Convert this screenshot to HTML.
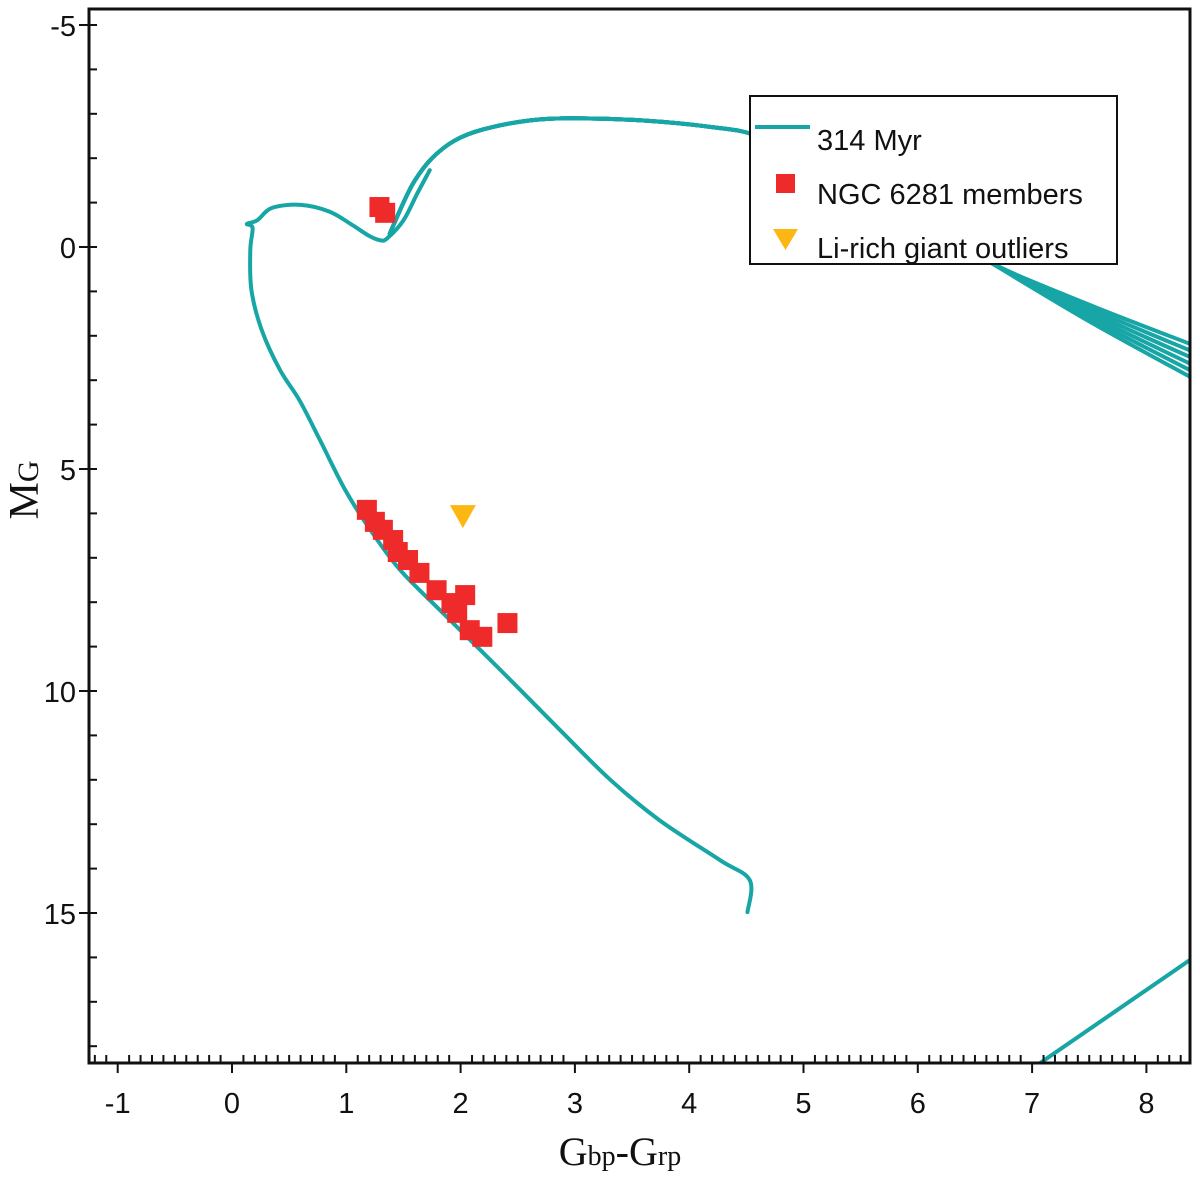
<!DOCTYPE html>
<html><head><meta charset="utf-8"><style>
body{margin:0;background:#fff;}
svg{display:block;font-family:"Liberation Sans",sans-serif;}
</style></head><body>
<svg id="chart" width="1200" height="1181" viewBox="0 0 1200 1181">
<defs><clipPath id="clip"><rect x="89" y="9" width="1101" height="1054"/></clipPath></defs>
<g id="marks" clip-path="url(#clip)"></g>
<rect x="89" y="9" width="1101" height="1054" fill="none" stroke="#111" stroke-width="3"/>
<g id="axes"></g>
<g>
<rect x="750" y="96" width="367" height="168" fill="#fff" stroke="#111" stroke-width="2"/>
<line x1="755" y1="127" x2="810" y2="127" stroke="#17a5a5" stroke-width="4"/>
<text x="817" y="150" font-size="29" fill="#111">314 Myr</text>
<rect x="776" y="174" width="19" height="19" fill="#ee2a2a"/>
<text x="817" y="204" font-size="29" fill="#111">NGC 6281 members</text>
<polygon points="773,229 798,229 785.5,250" fill="#fcb712"/>
<text x="817" y="258" font-size="29" fill="#111">Li-rich giant outliers</text>
</g>
<text x="620" y="1165" text-anchor="middle" font-family="'Liberation Serif',serif" fill="#111"><tspan font-size="40">G</tspan><tspan font-size="28">bp</tspan><tspan font-size="40">-G</tspan><tspan font-size="28">rp</tspan></text>
<text transform="translate(38,490) rotate(-90)" text-anchor="middle" font-family="'Liberation Serif',serif" fill="#111"><tspan font-size="42">M</tspan><tspan font-size="30">G</tspan></text>
</svg>
<script>
const isoX=[4.51,4.53,4.27,3.74,3.31,2.87,2.35,1.82,1.47,1.21,0.99,0.77,0.59,0.42,0.26,0.17,0.16,0.18,0.13,0.22,0.35,0.6,0.85,1.05,1.2,1.3,1.36,1.5,1.62,1.73];
const isoY=[14.98,14.26,13.81,12.91,12.0,10.88,9.53,8.18,7.27,6.37,5.47,4.35,3.45,2.77,1.87,0.97,0.07,-0.43,-0.52,-0.6,-0.88,-0.95,-0.8,-0.5,-0.25,-0.15,-0.2,-0.6,-1.2,-1.73];
const rgbX=[1.38,1.5,1.6,1.75,1.95,2.2,2.6,3.0,3.6,4.2,4.6,5.2,5.9,6.63,7.5,8.4];
const rgbY=[-0.3,-1.0,-1.5,-2.0,-2.4,-2.65,-2.85,-2.9,-2.85,-2.7,-2.5,-1.8,-0.8,0.34,1.3,2.2];
const rgbEndY=[2.2,2.35,2.5,2.65,2.8,2.95];
const wdX=[8.38,7.07];
const wdY=[16.06,18.38];
const memX=[1.18,1.25,1.32,1.41,1.45,1.54,1.64,1.79,2.04,1.92,1.97,2.08,2.19,2.41,1.29,1.34];
const memY=[5.92,6.19,6.37,6.6,6.87,7.05,7.34,7.73,7.84,8.02,8.24,8.63,8.78,8.47,-0.9,-0.77];
const outX=[2.02];
const outY=[6.06];
const xTicks=[-1,0,1,2,3,4,5,6,7,8];
const yTicks=[-5,0,5,10,15];
const NS="http://www.w3.org/2000/svg";
const sx=v=>232+v*114.3;
const sy=v=>247+v*44.4;
const marks=document.getElementById('marks'),axes=document.getElementById('axes');
function mk(tag,at,parent){const e=document.createElementNS(NS,tag);for(const k in at)e.setAttribute(k,at[k]);parent.appendChild(e);return e;}
function smooth(pts){
 let d='M'+pts[0][0]+','+pts[0][1];
 for(let i=0;i<pts.length-1;i++){
  const p0=pts[Math.max(0,i-1)],p1=pts[i],p2=pts[i+1],p3=pts[Math.min(pts.length-1,i+2)];
  const c1x=p1[0]+(p2[0]-p0[0])/6,c1y=p1[1]+(p2[1]-p0[1])/6;
  const c2x=p2[0]-(p3[0]-p1[0])/6,c2y=p2[1]-(p3[1]-p1[1])/6;
  d+=` C${c1x},${c1y} ${c2x},${c2y} ${p2[0]},${p2[1]}`;
 }
 return d;
}
function poly(xs,ys,name){
 const pts=xs.map((x,i)=>[sx(x),sy(ys[i])]);
 const p=mk('path',{d:smooth(pts),fill:'none',stroke:'#17a5a5','stroke-width':4,'stroke-linejoin':'round','stroke-linecap':'round'},marks);
 
 
}
poly(isoX,isoY,'isochrone-main');
rgbEndY.forEach((e,k)=>{
 const ys=rgbY.slice();ys[ys.length-1]=e;ys[ys.length-2]=rgbY[rgbY.length-2]+(e-rgbY[rgbY.length-1])*0.5;
 poly(rgbX,ys,'isochrone-giant-branch');
});
poly(wdX,wdY,'isochrone-lower-branch');
memX.forEach((x,i)=>{
 const r=mk('rect',{x:sx(x)-10,y:sy(memY[i])-10,width:20,height:20,fill:'#ee2a2a'},marks);
 
 
});
outX.forEach((x,i)=>{
 const cx=sx(x),cy=sy(outY[i]);
 const t=mk('polygon',{points:`${cx-13},${cy-11} ${cx+13},${cy-11} ${cx},${cy+12}`,fill:'#fcb712'},marks);
 
 
});
for(let v=-1.2;v<=8.38;v+=0.1){
 const major=Math.abs(v-Math.round(v))<0.01;
 const x=sx(v);
 const l=mk('line',{x1:x,x2:x,y1:1063,y2:major?1073:1055,stroke:'#111','stroke-width':2},axes);
 
 
}
xTicks.forEach(v=>{
 const t=mk('text',{x:sx(v),y:1113,'text-anchor':'middle','font-size':29,fill:'#111'},axes);
 t.textContent=v;
 
 
});
for(let v=-5;v<=18;v+=1){
 const major=v%5===0;
 const y=sy(v);
 const l=mk('line',{x1:major?79:89,x2:97,y1:y,y2:y,stroke:'#111','stroke-width':2},axes);
 
 
}
yTicks.forEach(v=>{
 const t=mk('text',{x:76,y:sy(v)+11,'text-anchor':'end','font-size':29,fill:'#111'},axes);
 t.textContent=v;
 
 
});
</script>
</body></html>
